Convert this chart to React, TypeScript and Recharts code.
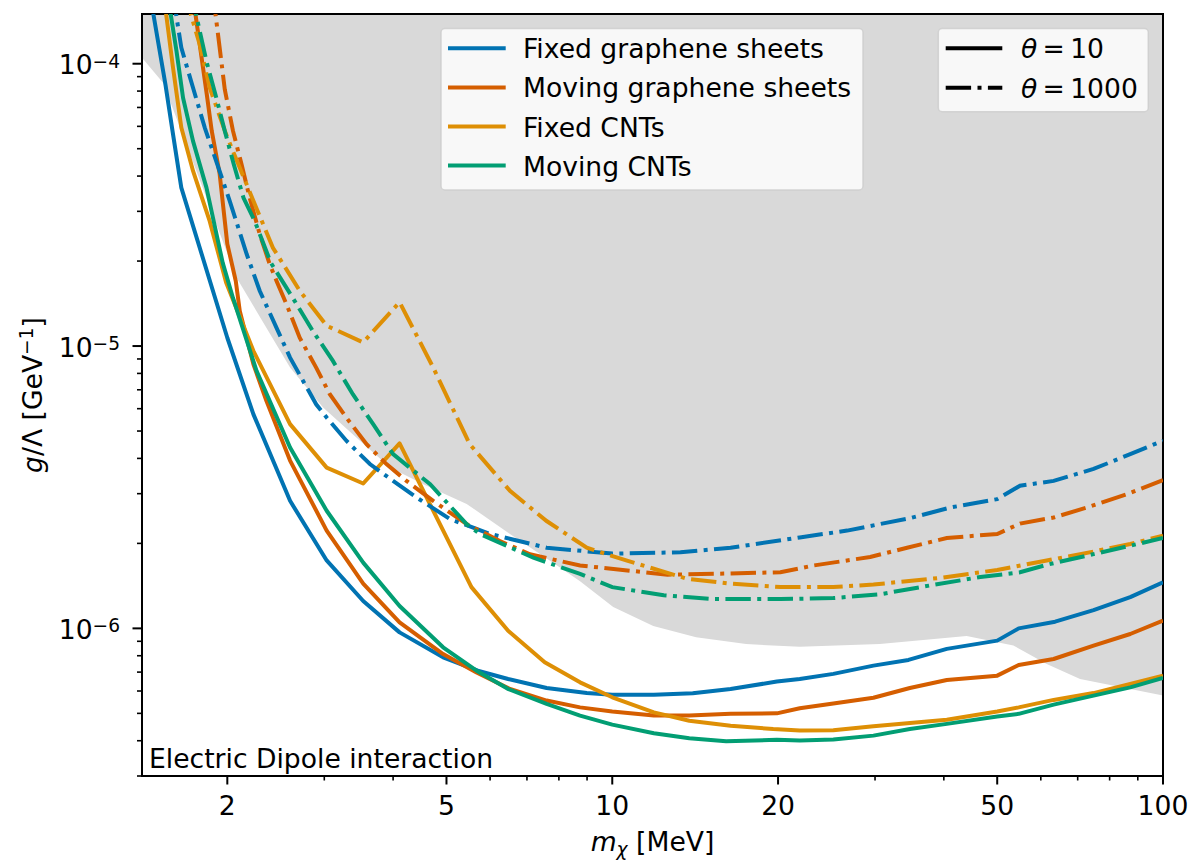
import React from 'react';
import { ComposedChart, Line, Area, XAxis, YAxis, ReferenceArea, Legend, Customized } from 'recharts';

const FONT = '"DejaVu Sans", sans-serif';
const FS = 26.6;
const FS_SMALL = 18.6;
const WIDTH = 1193;
const HEIGHT = 860;
const X_DOMAIN = [1.4, 100];
const Y_DOMAIN = [3e-7, 1.5e-4];
const DASH_DOT = '25.4 6.4 4 6.4';

// grey excluded region: its lower edge
const excludedMass = [1.4, 1.53, 2.078, 2.6, 2.985, 3.43, 3.95, 4.54, 5.44, 6.52, 7.7, 8.74, 10.04, 11.87, 14.2, 17.5, 21.9, 30.6, 44.0, 53.5, 61.5, 70.7, 100];
const excludedEdge = [1.05e-4, 8.54e-5, 1.75e-5, 8.39e-6, 6.06e-6, 4.74e-6, 3.71e-6, 3.24e-6, 2.76e-6, 2.16e-6, 1.74e-6, 1.47e-6, 1.19e-6, 1.02e-6, 9.3e-7, 8.8e-7, 8.6e-7, 8.8e-7, 9.4e-7, 8.7e-7, 7.48e-7, 6.62e-7, 5.78e-7];

// Fixed graphene sheets
const fgsMass10 = [1.444, 1.544, 1.594, 1.65, 2.0, 2.23, 2.6, 3.03, 3.53, 4.11, 4.93, 5.7, 6.47, 7.6, 8.99, 10.0, 11.9, 14.0, 16.4, 19.9, 21.9, 25.2, 29.8, 34.5, 40.5, 50, 54.7, 63.7, 74.8, 87.2, 100];
const fgs10 = [1.81e-4, 8.45e-5, 5.62e-5, 3.64e-5, 1.07e-5, 5.74e-6, 2.83e-6, 1.74e-6, 1.25e-6, 9.68e-7, 7.9e-7, 7.08e-7, 6.62e-7, 6.15e-7, 5.9e-7, 5.82e-7, 5.82e-7, 5.89e-7, 6.1e-7, 6.48e-7, 6.62e-7, 6.9e-7, 7.38e-7, 7.73e-7, 8.46e-7, 9.05e-7, 1.0e-6, 1.056e-6, 1.16e-6, 1.29e-6, 1.456e-6];
const fgsMass1000 = [1.59, 1.65, 1.733, 1.82, 2.02, 2.17, 2.29, 2.457, 2.6, 2.9, 3.03, 3.29, 3.63, 4.0, 4.41, 5.07, 6.0, 7.6, 10.0, 13.3, 16.4, 21.9, 26.7, 34.8, 41.1, 50, 55, 63.3, 74.8, 87.2, 100];
const fgs1000 = [1.81e-4, 1.14e-4, 8.22e-5, 5.94e-5, 3.27e-5, 2.11e-5, 1.57e-5, 1.16e-5, 9.1e-6, 6.22e-6, 5.58e-6, 4.62e-6, 3.82e-6, 3.33e-6, 2.91e-6, 2.44e-6, 2.16e-6, 1.93e-6, 1.84e-6, 1.86e-6, 1.93e-6, 2.1e-6, 2.22e-6, 2.46e-6, 2.68e-6, 2.87e-6, 3.2e-6, 3.33e-6, 3.67e-6, 4.14e-6, 4.62e-6];

// Moving graphene sheets
const mgsMass10 = [1.725, 1.752, 1.835, 1.874, 1.937, 2.0, 2.072, 2.107, 2.23, 2.356, 2.6, 3.03, 3.53, 4.11, 4.93, 5.67, 6.52, 7.6, 8.74, 10.0, 11.9, 13.8, 16.4, 19.9, 21.9, 25.2, 29.8, 34.7, 40.5, 50, 54.7, 63.3, 74.8, 87.2, 100];
const mgs10 = [1.81e-4, 1.48e-4, 7.82e-5, 5.78e-5, 4.07e-5, 2.3e-5, 1.7e-5, 1.33e-5, 8.63e-6, 6.39e-6, 3.93e-6, 2.22e-6, 1.44e-6, 1.05e-6, 8.11e-7, 6.98e-7, 6.1e-7, 5.55e-7, 5.25e-7, 5.08e-7, 4.91e-7, 4.91e-7, 4.98e-7, 5.0e-7, 5.21e-7, 5.42e-7, 5.68e-7, 6.15e-7, 6.56e-7, 6.8e-7, 7.42e-7, 7.79e-7, 8.69e-7, 9.55e-7, 1.065e-6];
const mgsMass1000 = [1.88, 1.905, 1.937, 1.979, 2.048, 2.122, 2.196, 2.29, 2.388, 2.457, 2.56, 2.707, 2.9, 3.07, 3.29, 3.58, 3.89, 4.23, 4.73, 5.44, 6.25, 7.09, 8.74, 10.8, 12.6, 15.3, 20.2, 23.2, 29.4, 34.3, 40.5, 50, 55, 63.3, 72.8, 86, 100];
const mgs1000 = [1.81e-4, 1.48e-4, 1.14e-4, 8.11e-5, 5.78e-5, 4.41e-5, 3.35e-5, 2.49e-5, 1.95e-5, 1.7e-5, 1.41e-5, 1.07e-5, 8.39e-6, 6.75e-6, 5.58e-6, 4.49e-6, 3.82e-6, 3.33e-6, 2.83e-6, 2.34e-6, 2.04e-6, 1.83e-6, 1.67e-6, 1.6e-6, 1.55e-6, 1.56e-6, 1.58e-6, 1.67e-6, 1.79e-6, 1.93e-6, 2.09e-6, 2.16e-6, 2.35e-6, 2.47e-6, 2.68e-6, 2.99e-6, 3.35e-6];

// Fixed CNTs
const fcMass10 = [1.53, 1.55, 1.594, 1.65, 1.733, 1.858, 1.99, 2.23, 2.6, 3.03, 3.53, 4.11, 5.55, 6.47, 7.54, 8.74, 10.0, 11.9, 13.8, 16.4, 19.6, 21.9, 25.2, 29.8, 40.5, 50, 54.7, 63.3, 74.8, 87.2, 100];
const fc10 = [1.81e-4, 1.48e-4, 9.68e-5, 5.94e-5, 4.17e-5, 2.77e-5, 1.68e-5, 9.62e-6, 5.29e-6, 3.71e-6, 3.26e-6, 4.52e-6, 1.4e-6, 9.81e-7, 7.58e-7, 6.44e-7, 5.7e-7, 5.04e-7, 4.71e-7, 4.52e-7, 4.4e-7, 4.35e-7, 4.36e-7, 4.5e-7, 4.75e-7, 5.08e-7, 5.25e-7, 5.58e-7, 5.9e-7, 6.36e-7, 6.8e-7];
const fcMass1000 = [1.67, 1.72, 1.782, 1.858, 1.99, 2.107, 2.23, 2.42, 2.707, 3.03, 3.53, 4.11, 4.73, 5.51, 6.52, 7.6, 8.99, 10.6, 13.65, 16.4, 20.2, 25.2, 29.8, 39.4, 50, 61.5, 70.7, 87.2, 100];
const fc1000 = [1.81e-4, 1.48e-4, 1.17e-4, 8.22e-5, 5.62e-5, 4.28e-5, 3.27e-5, 2.23e-5, 1.57e-5, 1.18e-5, 1.03e-5, 1.43e-5, 8.39e-6, 4.49e-6, 3.07e-6, 2.4e-6, 1.93e-6, 1.74e-6, 1.5e-6, 1.44e-6, 1.4e-6, 1.4e-6, 1.43e-6, 1.51e-6, 1.61e-6, 1.74e-6, 1.83e-6, 1.99e-6, 2.13e-6];

// Moving CNTs
const mcMass10 = [1.56, 1.58, 1.617, 1.662, 1.733, 1.833, 1.962, 2.048, 2.26, 2.6, 3.03, 3.53, 4.11, 4.93, 5.67, 6.46, 7.6, 8.74, 10.0, 11.9, 13.8, 16.1, 19.9, 21.9, 25.2, 29.8, 34.7, 40.5, 50, 54.7, 63.3, 74.8, 87.2, 100];
const mc10 = [1.81e-4, 1.48e-4, 1.11e-4, 7.58e-5, 5.32e-5, 3.64e-5, 1.97e-5, 1.48e-5, 8.17e-6, 4.37e-6, 2.61e-6, 1.71e-6, 1.2e-6, 8.57e-7, 7.08e-7, 6.11e-7, 5.4e-7, 4.91e-7, 4.56e-7, 4.25e-7, 4.08e-7, 3.98e-7, 4.03e-7, 4.01e-7, 4.04e-7, 4.17e-7, 4.4e-7, 4.59e-7, 4.87e-7, 4.98e-7, 5.37e-7, 5.78e-7, 6.18e-7, 6.68e-7];
const mcMass1000 = [1.716, 1.757, 1.833, 1.91, 1.979, 2.054, 2.14, 2.243, 2.4, 2.63, 2.86, 3.11, 3.38, 3.68, 4.0, 4.67, 5.44, 5.75, 7.19, 8.74, 10.0, 12.4, 15.3, 20.2, 25.2, 30.6, 37.8, 46.6, 55, 61.5, 72.8, 86, 100];
const mc1000 = [1.81e-4, 1.48e-4, 1.02e-4, 7.58e-5, 5.78e-5, 4.41e-5, 3.35e-5, 2.77e-5, 1.97e-5, 1.48e-5, 1.13e-5, 8.86e-6, 6.75e-6, 5.29e-6, 4.14e-6, 3.24e-6, 2.34e-6, 2.16e-6, 1.78e-6, 1.56e-6, 1.4e-6, 1.31e-6, 1.27e-6, 1.27e-6, 1.28e-6, 1.32e-6, 1.42e-6, 1.52e-6, 1.58e-6, 1.68e-6, 1.81e-6, 1.95e-6, 2.09e-6];

const xTicks = [2, 3, 4, 5, 6, 7, 8, 9, 10, 20, 30, 40, 50, 60, 70, 80, 90, 100];
const xLabelled = [2, 5, 10, 20, 50, 100];
const yTicks = [
  3e-7, 4e-7, 5e-7, 6e-7, 7e-7, 8e-7, 9e-7, 1e-6,
  2e-6, 3e-6, 4e-6, 5e-6, 6e-6, 7e-6, 8e-6, 9e-6, 1e-5,
  2e-5, 3e-5, 4e-5, 5e-5, 6e-5, 7e-5, 8e-5, 9e-5, 1e-4,
];
const yLabelled = [1e-6, 1e-5, 1e-4];
const thetaLabels = ['10', '1000'];

const toPoints = (mass: number[], g: number[]) => mass.map((m, i) => ({ m, g: g[i] }));

const excluded = toPoints(excludedMass, excludedEdge);

const materials = [
  { name: 'Fixed graphene sheets', color: '#0173b2', low: toPoints(fgsMass10, fgs10), high: toPoints(fgsMass1000, fgs1000) },
  { name: 'Moving graphene sheets', color: '#d55e00', low: toPoints(mgsMass10, mgs10), high: toPoints(mgsMass1000, mgs1000) },
  { name: 'Fixed CNTs', color: '#de8f05', low: toPoints(fcMass10, fc10), high: toPoints(fcMass1000, fc1000) },
  { name: 'Moving CNTs', color: '#029e73', low: toPoints(mcMass10, mc10), high: toPoints(mcMass1000, mc1000) },
];

const XTick = ({ x, y, payload }: any) => {
  const v = payload.value;
  const labelled = xLabelled.includes(v);
  return (
    <g>
      <line x1={x} x2={x} y1={y} y2={y + (labelled ? 8.5 : 4.5)} stroke="#000" strokeWidth={labelled ? 2 : 1.6} />
      {labelled && (
        <text x={x} y={y + 39} textAnchor="middle" fontFamily={FONT} fontSize={FS} fill="#000">
          {v}
        </text>
      )}
    </g>
  );
};

const YTick = ({ x, y, payload }: any) => {
  const v = payload.value;
  const labelled = yLabelled.includes(v);
  const exp = Math.round(Math.log10(v));
  return (
    <g>
      <line x1={x - (labelled ? 9.5 : 5)} x2={x} y1={y} y2={y} stroke="#000" strokeWidth={labelled ? 2 : 1.6} />
      {labelled && (
        <text x={x - 22} y={y + 10.6} textAnchor="end" fontFamily={FONT} fontSize={FS} fill="#000">
          <tspan>10</tspan>
          <tspan fontSize={FS_SMALL} dy={-6.8}>{'\u2212' + Math.abs(exp)}</tspan>
        </text>
      )}
    </g>
  );
};

const XLabel = ({ viewBox }: any) => {
  const { x, y, width } = viewBox;
  return (
    <text x={x + width / 2} y={y + 75} textAnchor="middle" fontFamily={FONT} fontSize={FS} fill="#000">
      <tspan fontStyle="italic">m</tspan>
      <tspan fontStyle="italic" fontSize={FS_SMALL} dy={5}>χ</tspan>
      <tspan dy={-5}>{' [MeV]'}</tspan>
    </text>
  );
};

const YLabel = ({ viewBox }: any) => {
  const { y, height } = viewBox;
  const cx = 41.5;
  const cy = y + height / 2;
  return (
    <text x={cx} y={cy} transform={`rotate(-90 ${cx} ${cy})`} textAnchor="middle" fontFamily={FONT} fontSize={FS} fill="#000">
      <tspan fontStyle="italic">g</tspan>
      <tspan>{'/Λ [GeV'}</tspan>
      <tspan fontSize={FS_SMALL} dy={-9}>{'\u22121'}</tspan>
      <tspan dy={9}>]</tspan>
    </text>
  );
};

const Annotation = () => (
  <text x={149} y={768.3} fontFamily={FONT} fontSize={FS} fill="#000">
    Electric Dipole interaction
  </text>
);

const LegendBoxes = () => (
  <svg width={WIDTH} height={HEIGHT} style={{ position: 'absolute', left: 0, top: 0, overflow: 'visible', pointerEvents: 'none' }}>
    <rect x={441} y={28.5} width={422} height={161.5} rx={4} fill="#fff" fillOpacity={0.8} stroke="#ccc" strokeOpacity={0.8} strokeWidth={1.5} />
    {materials.map((s, i) => (
      <g key={s.name}>
        <line x1={448} x2={505.7} y1={48.3 + 39.1 * i} y2={48.3 + 39.1 * i} stroke={s.color} strokeWidth={4} />
        <text x={523} y={58.3 + 39.1 * i} fontFamily={FONT} fontSize={FS} fill="#000">
          {s.name}
        </text>
      </g>
    ))}
    <rect x={938.3} y={28.5} width={210} height={83.2} rx={4} fill="#fff" fillOpacity={0.8} stroke="#ccc" strokeOpacity={0.8} strokeWidth={1.5} />
    {thetaLabels.map((t, i) => (
      <g key={t}>
        <line
          x1={945.7}
          x2={1002.3}
          y1={48.3 + 39.4 * i}
          y2={48.3 + 39.4 * i}
          stroke="#000"
          strokeWidth={4}
          strokeDasharray={i === 1 ? DASH_DOT : undefined}
        />
        <text x={1021} y={58.3 + 39.4 * i} fontFamily={FONT} fontSize={FS} fill="#000">
          <tspan fontStyle="italic">θ</tspan>
          <tspan>{'\u2009=\u2009' + t}</tspan>
        </text>
      </g>
    ))}
  </svg>
);

export default function App() {
  return (
    <div style={{ position: 'absolute', left: 0, top: 0, width: WIDTH, height: HEIGHT, background: '#fff' }}>
      <ComposedChart width={WIDTH} height={HEIGHT} margin={{ top: 14, right: 30, left: 0, bottom: 0 }}>
        <XAxis
          type="number"
          dataKey="m"
          scale="log"
          domain={X_DOMAIN}
          allowDataOverflow
          ticks={xTicks}
          interval={0}
          tick={<XTick />}
          tickLine={false}
          tickSize={0}
          tickMargin={0}
          axisLine={false}
          height={84}
          label={<XLabel />}
        />
        <YAxis
          type="number"
          dataKey="g"
          scale="log"
          domain={Y_DOMAIN}
          allowDataOverflow
          ticks={yTicks}
          interval={0}
          tick={<YTick />}
          tickLine={false}
          tickSize={0}
          tickMargin={0}
          axisLine={false}
          width={142}
          label={<YLabel />}
        />
        <Area
          data={excluded}
          dataKey="g"
          type="linear"
          baseValue={Y_DOMAIN[1]}
          fill="#d9d9d9"
          fillOpacity={1}
          stroke="none"
          isAnimationActive={false}
        />
        {materials.map((s) => (
          <Line
            key={s.name + '-10'}
            data={s.low}
            dataKey="g"
            type="linear"
            stroke={s.color}
            strokeWidth={4}
            strokeLinejoin="round"
            dot={false}
            activeDot={false}
            isAnimationActive={false}
          />
        ))}
        {materials.map((s) => (
          <Line
            key={s.name + '-1000'}
            data={s.high}
            dataKey="g"
            type="linear"
            stroke={s.color}
            strokeWidth={4}
            strokeDasharray={DASH_DOT}
            dot={false}
            activeDot={false}
            isAnimationActive={false}
          />
        ))}
        <ReferenceArea
          x1={X_DOMAIN[0]}
          x2={X_DOMAIN[1]}
          y1={Y_DOMAIN[0]}
          y2={Y_DOMAIN[1]}
          fill="none"
          stroke="#000"
          strokeWidth={2}
          ifOverflow="visible"
        />
        <Customized component={Annotation} />
        <Legend
          content={LegendBoxes}
          layout="horizontal"
          verticalAlign="middle"
          align="center"
          wrapperStyle={{ left: 0, top: 0, width: 0, height: 0 }}
        />
      </ComposedChart>
    </div>
  );
}
